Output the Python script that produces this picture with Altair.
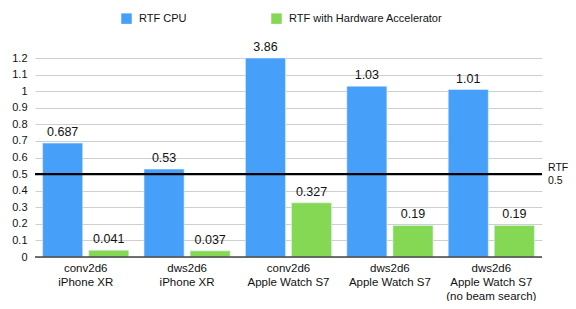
import altair as alt
import pandas as pd

categories = ["conv2d6\niPhone XR", "dws2d6\niPhone XR", "conv2d6\nApple Watch S7",
              "dws2d6\nApple Watch S7", "dws2d6\nApple Watch S7\n(no beam search)"]
series = ["RTF CPU", "RTF with Hardware Accelerator"]
cpu_values = [0.687, 0.53, 3.86, 1.03, 1.01]
hw_values = [0.041, 0.037, 0.327, 0.19, 0.19]
cpu_labels = ["0.687", "0.53", "3.86", "1.03", "1.01"]
hw_labels = ["0.041", "0.037", "0.327", "0.19", "0.19"]
y_ticks = [0, 0.1, 0.2, 0.3, 0.4, 0.5, 0.6, 0.7, 0.8, 0.9, 1, 1.1, 1.2]
threshold = 0.5

rows = []
for i, c in enumerate(categories):
    rows.append({"cat": c, "series": series[0], "value": cpu_values[i], "label": cpu_labels[i]})
    rows.append({"cat": c, "series": series[1], "value": hw_values[i], "label": hw_labels[i]})
df = pd.DataFrame(rows)

FONT = "Liberation Sans"
colors = ["#469FF8", "#84D853"]
W, H = 507, 199
yscale = alt.Scale(domain=[0, 1.2], clamp=True, nice=False)

x_axis = alt.Axis(labelAngle=0, labelExpr="split(datum.label, '\\n')",
                  ticks=False, domain=False, labelFontSize=11.5, labelColor="#111",
                  labelFont=FONT, labelPadding=5, labelLineHeight=14, labelBaseline="top")
y_axis = alt.Axis(values=y_ticks, ticks=False, domain=False, grid=True,
                  gridColor="#cfcfcf", gridWidth=1, labelFontSize=11,
                  labelColor="#111", labelFont=FONT, labelPadding=8,
                  labelOverlap=False, labelFlush=False, labelBound=False,
                  labelExpr="datum.value == 0 ? '0' : format(datum.value, '.1~f')")

x = alt.X("cat:N", sort=categories, title=None,
          scale=alt.Scale(paddingInner=0.15, paddingOuter=0.075), axis=x_axis)
xo = alt.XOffset("series:N", sort=series, scale=alt.Scale(paddingInner=0.13))
y = alt.Y("value:Q", title=None, scale=yscale, axis=y_axis)
y_v = alt.Y("v:Q", title=None, scale=yscale, axis=y_axis)

bars = alt.Chart(df).mark_bar(stroke="#e6f0fb", strokeWidth=0.6).encode(
    x=x, xOffset=xo, y=y,
    color=alt.Color("series:N", sort=series, scale=alt.Scale(domain=series, range=colors),
                    legend=alt.Legend(title=None, orient="none", legendX=86, legendY=-45,
                                      direction="horizontal", symbolType="square",
                                      symbolSize=110, symbolStrokeWidth=0,
                                      labelFont=FONT, labelFontSize=11, labelColor="#111",
                                      columnPadding=84, labelOffset=7)),
)

texts = alt.Chart(df).mark_text(baseline="bottom", dy=-4, fontSize=12.5, font=FONT, color="#111").encode(
    x=x, xOffset=xo, y=y, text="label:N"
)

base_df = pd.DataFrame({"v": [0]})
baseline = alt.Chart(base_df).mark_rule(color="#444", strokeWidth=1.5).encode(y=y_v)

th_df = pd.DataFrame({"v": [threshold], "t": ["RTF"], "t2": ["0.5"]})
thline = alt.Chart(th_df).mark_rule(color="#000", strokeWidth=2.2).encode(y=y_v)
th_t1 = alt.Chart(th_df).mark_text(align="left", baseline="bottom", dx=6, dy=-1,
                                    fontSize=10.5, font=FONT, color="#111").encode(
    x=alt.value(W), y=y_v, text="t:N")
th_t2 = alt.Chart(th_df).mark_text(align="left", baseline="top", dx=6, dy=2,
                                    fontSize=10.5, font=FONT, color="#111").encode(
    x=alt.value(W), y=y_v, text="t2:N")

chart = alt.layer(bars, texts, baseline, thline, th_t1, th_t2).properties(
    width=W, height=H,
    background="white",
    autosize=alt.AutoSizeParams(type="none"),
    padding={"left": 27, "top": 50, "right": 26, "bottom": 44},
).configure_view(stroke=None)

chart.save("out.html", embed_options={"renderer": "svg", "actions": False})
